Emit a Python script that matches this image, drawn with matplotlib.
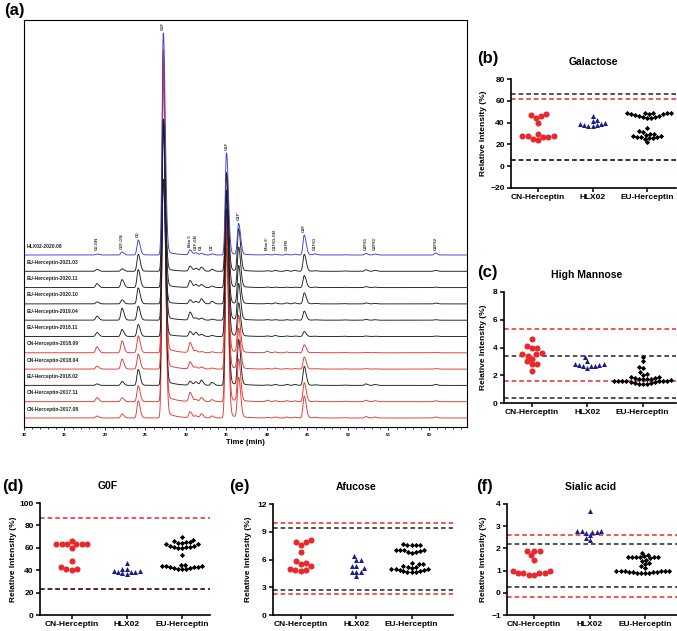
import numpy as np
import matplotlib
matplotlib.use("Agg")
import matplotlib.pyplot as plt
from matplotlib.ticker import MultipleLocator

plt.rcParams['font.family'] = ['Liberation Sans', 'DejaVu Sans']
plt.rcParams['font.weight'] = 'bold'
plt.rcParams['axes.labelweight'] = 'bold'

W, H = 677, 631

# ---------------- (a) chromatogram: peak table ----------------
trace_names = ['HLX02-2020.08', 'EU-Herceptin-2021.03', 'EU-Herceptin-2020.11', 'EU-Herceptin-2020.10',
               'EU-Herceptin-2019.04', 'EU-Herceptin-2018.11', 'CN-Herceptin-2018.09', 'CN-Herceptin-2018.04',
               'EU-Herceptin-2018.02', 'CN-Herceptin-2017.11', 'CN-Herceptin-2017.08']
trace_kind = ['HLX02', 'EU', 'EU', 'EU', 'EU', 'EU', 'CN', 'CN', 'EU', 'CN', 'CN']

peak_times = [19.0, 22.1, 24.1, 27.2, 30.5, 31.2, 31.9, 33.2, 35.0, 36.5,
              40.0, 41.0, 42.4, 43.4, 44.6, 45.9, 49.5, 52.2, 53.3, 60.8]
peak_labels = ['G0-GN', 'G0F-GN', 'G0', 'G0F', 'Man 5', 'G1F-GN', 'G1', "G1'", 'G1F', "G1F'",
               "Man 6'", 'G1FS1-GN', 'G1FB', '', 'G2F', 'G1FS1', '', 'G2FS1', "G2FS1'", 'G2FS2']
# heights (arbitrary units) of each peak, one row per trace, top trace first
peak_heights = [
    [1, 3, 15, 222, 5, 2, 1.5, 1, 102, 31, 0.5, 0.8, 0.8, 0.8, 20, 1, 0.3, 1.5, 1, 2],
    [2, 2.5, 17, 151, 5, 3, 4, 2, 98, 42, 0.5, 0.8, 1, 1, 17, 0.5, 0.3, 1.5, 1, 1],
    [4, 8, 18, 168, 7, 3, 3, 1.5, 115, 40, 0.5, 0.5, 0.5, 0.5, 12, 0.5, 0.3, 1, 0.5, 0.5],
    [2, 4, 16, 124, 4, 2.5, 5, 2.5, 95, 38, 0.5, 1, 1, 1, 11, 0.5, 0.3, 1, 0.5, 0.8],
    [4, 12, 14, 201, 8, 2, 2, 1, 130, 36, 0.5, 0.5, 0.5, 0.5, 9, 0.3, 0.3, 0.8, 0.5, 0.5],
    [4, 7, 12, 157, 5, 4, 2, 1, 140, 33, 0.5, 1, 0.5, 0.5, 5, 0.3, 0.3, 0.5, 0.3, 0.5],
    [6, 12, 17, 303, 10, 2, 1, 1, 140, 37, 1.5, 0.8, 0.8, 0.5, 8, 0.3, 0.5, 0.5, 0.3, 0.5],
    [3, 10, 15, 310, 7, 2, 2, 1, 150, 40, 0.5, 1, 0.5, 0.5, 12, 0.3, 0.3, 0.5, 0.3, 0.5],
    [1.5, 4, 16, 266, 4, 3.5, 5, 3, 160, 45, 0.5, 1, 1, 1, 19, 0.5, 0.3, 1.5, 1, 1],
    [4, 4, 16, 347, 9, 2, 4, 2, 165, 42, 1.5, 1, 1, 0.8, 19, 0.5, 0.5, 1.5, 1, 1],
    [2, 4, 17, 348, 6, 2, 4, 2, 170, 40, 0.5, 1, 1, 0.8, 22, 0.5, 0.3, 1.5, 1, 1],
]

# ---------------- (b)-(f) dot plots ----------------
groups = ['CN-Herceptin', 'HLX02', 'EU-Herceptin']

gal_cn = [48.2, 47.3, 45.7, 44.2, 39.6, 29.5, 28, 27.7, 27.4, 26.5, 26.5, 25.3, 23.7]
gal_hlx = [46, 42, 41.5, 39.5, 39, 38.5, 38, 37.5, 37, 36.5]
gal_eu = [49, 49, 48.8, 48.5, 48.3, 48, 47.5, 47, 46.5, 46, 45.5, 45, 44.5, 44, 48.6,
          35, 32, 31, 30, 30, 29, 28, 28, 27, 27, 27, 26, 26, 25, 22]
gal_red = [62, 6]
gal_black = [66, 5.5]

man_cn = [4.6, 4.1, 4.0, 3.95, 3.6, 3.5, 3.5, 3.4, 3.2, 3.0, 2.8, 2.8, 2.3]
man_hlx = [3.3, 3.05, 2.8, 2.8, 2.75, 2.75, 2.7, 2.7, 2.65, 2.5]
man_eu = [3.3, 3.0, 2.6, 2.5, 2.2, 2.1, 2.0, 1.9, 1.85, 1.8, 1.8, 1.75, 1.7, 1.65, 1.6,
          1.6, 1.6, 1.6, 1.55, 1.55, 1.5, 1.5, 1.45, 1.45, 1.4, 1.4, 1.4, 1.6, 1.7, 1.75]
man_red = [5.31, 1.56]
man_black = [3.41, 0.36]

g0f_cn = [66.5, 63.5, 63.5, 63, 63, 63, 63, 60, 48.5, 43, 41, 41, 40.5]
g0f_hlx = [46, 41.5, 41, 39.5, 39, 38.5, 38, 38, 37.5, 37]
g0f_eu = [70, 67, 66, 65, 65, 64, 64, 63, 63, 62, 62, 61, 61, 61, 60, 60, 54,
          45, 44.5, 44, 43.5, 43, 42.5, 42, 41.5, 41, 41.5, 42, 43, 44]
g0f_red = [86.5, 23.5]
g0f_black = [23]

afu_cn = [8.1, 7.85, 7.85, 7.6, 6.8, 5.85, 5.6, 5.5, 5.25, 5.0, 4.9, 4.9, 4.8]
afu_hlx = [6.4, 6.0, 6.0, 5.3, 5.25, 5.05, 4.7, 4.7, 4.7, 4.2]
afu_eu = [7.65, 7.6, 7.6, 7.6, 7.55, 7.05, 7.0, 7.0, 6.9, 6.85, 6.8, 6.75, 7.0,
          5.65, 5.5, 5.5, 5.25, 5.2, 5.1, 5.0, 4.95, 4.9, 4.8, 4.75, 4.7, 4.65, 4.6, 4.9, 5.0, 5.2]
afu_red = [10.0, 2.3]
afu_black = [9.4, 2.65]

sia_cn = [1.9, 1.9, 1.9, 1.7, 1.5, 1.0, 1.0, 0.9, 0.9, 0.9, 0.88, 0.8, 0.8]
sia_hlx = [3.7, 2.8, 2.8, 2.78, 2.75, 2.75, 2.7, 2.6, 2.48, 2.38]
sia_eu = [1.8, 1.7, 1.65, 1.62, 1.6, 1.6, 1.6, 1.6, 1.6, 1.55, 1.5, 1.45, 1.35, 1.3, 1.2,
          1.1, 1.0, 1.0, 1.0, 1.0, 1.0, 0.95, 0.95, 0.92, 0.9, 0.9, 0.9, 0.9, 0.95, 1.0]
sia_red = [2.61, -0.17]
sia_black = [2.19, 0.28]

RED = '#e8282a'
NAVY = '#1c1c8a'
TRACE_COL = {'HLX02': '#3c3cd8', 'EU': '#1e1e1e', 'CN': '#e8352e'}


def add_ax(fig, left, top, right, bottom):
    return fig.add_axes([left / W, 1 - bottom / H, (right - left) / W, (bottom - top) / H])


def trace(t, heights):
    y = np.zeros_like(t)
    for t0, h in zip(peak_times, heights):
        s = np.where(t < t0, 0.15, 0.24)
        y += h * np.exp(-0.5 * ((t - t0) / s) ** 2)
        dt = np.clip(t - t0, 0, None)
        y += 0.025 * h * np.exp(-dt / 1.0) * (1 - np.exp(-dt / 0.3))
    return y


def swarm(ax, x0, vals, d):
    # simple beeswarm in pixel space, lowest value in the middle
    pts = ax.transData.transform(np.column_stack([np.full(len(vals), x0), vals]))
    ys = pts[:, 1]
    order = np.argsort(ys, kind='stable')
    placed = []
    offs = np.zeros(len(vals))
    for k, i in enumerate(order):
        y = ys[i]
        cands = [0.0]
        for px, py in placed:
            dy = abs(py - y)
            if dy < d:
                dx = np.sqrt(d * d - dy * dy)
                cands += [px + dx, px - dx]
        side = 1 if k % 2 else -1
        cands.sort(key=lambda c: (round(abs(c), 3), side * c))
        best = 0.0
        for c in cands:
            if all((c - px) ** 2 + (y - py) ** 2 >= d * d - 1e-6 for px, py in placed):
                best = c
                break
        placed.append((best, y))
        offs[i] = best
    xc = pts[0, 0]
    inv = ax.transData.inverted()
    return np.array([inv.transform((xc + o, 0))[0] for o in offs])


fig = plt.figure(figsize=(W / 100, H / 100), dpi=100)

# ---------------- panel (a) ----------------
ax = add_ax(fig, 24, 20, 467, 427)
t = np.linspace(10, 64.7, 4000)
n = len(trace_names)
base = [9 + 16.3 * (n - 1 - i) for i in range(n)]
curves = [trace(t, h) for h in peak_heights]
for i in range(n - 1, -1, -1):
    ax.plot(t, base[i] + curves[i], color=TRACE_COL[trace_kind[i]], lw=0.65)
    ax.text(10.35, base[i] + 9, trace_names[i], fontsize=3.6, fontweight='bold',
            va='center', ha='left', color='#222222')
for tp, lab in zip(peak_times, peak_labels):
    if not lab:
        continue
    m = (t > tp - 0.3) & (t < tp + 0.3)
    ytxt = max(curves[0][m].max() + 3, 5)
    ax.text(tp, base[0] + ytxt, lab, rotation=90, fontsize=3.0, ha='center', va='bottom',
            color='#333333')
ax.set_xlim(10, 64.7)
ax.set_ylim(0, 407)
ax.set_yticks([])
ax.xaxis.set_major_locator(MultipleLocator(5))
ax.xaxis.set_minor_locator(MultipleLocator(1))
ax.tick_params(axis='x', which='major', labelsize=3.2, length=2.5, width=0.6, pad=1.5)
ax.tick_params(axis='x', which='minor', length=1.5, width=0.5)
ax.set_xlim(10, 64.7)
for sp in ax.spines.values():
    sp.set_linewidth(0.8)
ax.set_xlabel('Time (min)', fontsize=5.5, labelpad=2)
fig.text(4 / W, 1 - 11 / H, '(a)', fontsize=12, fontweight='bold', va='center', ha='left')

# ---------------- panels (b)-(f) ----------------
panels = [
    # box (l, t, r, b), xlim, ylim, yticks, data, red, black, title, title_x, tag_xy, ylabel_x
    ((511, 79, 676, 188), (-0.495, 2.53), (-20, 80), [-20, 0, 20, 40, 60, 80],
     (gal_cn, gal_hlx, gal_eu), gal_red, gal_black, 'Galactose', 593, (477, 59), 487),
    ((504, 292, 676, 403), (-0.5, 2.6), (0, 8), [0, 2, 4, 6, 8],
     (man_cn, man_hlx, man_eu), man_red, man_black, 'High Mannose', 587, (477, 273), 487),
    ((40, 503, 210, 615), (-0.576, 2.51), (0, 100), [0, 20, 40, 60, 80, 100],
     (g0f_cn, g0f_hlx, g0f_eu), g0f_red, g0f_black, 'G0F', 108, (2, 486), 17),
    ((273, 504, 453, 615), (-0.506, 2.75), (0, 12), [0, 3, 6, 9, 12],
     (afu_cn, afu_hlx, afu_eu), afu_red, afu_black, 'Afucose', 356, (229, 486), 252),
    ((507, 504, 677, 615), (-0.49, 2.58), (-1, 4), [-1, 0, 1, 2, 3, 4],
     (sia_cn, sia_hlx, sia_eu), sia_red, sia_black, 'Sialic acid', 591, (476, 486), 487),
]
tags = ['(b)', '(c)', '(d)', '(e)', '(f)']
styles = [dict(marker='o', color=RED, s=19, d=5.6),
          dict(marker='^', color=NAVY, s=13, d=4.4),
          dict(marker='D', color='black', s=7, d=4.1)]

for (box, xlim, ylim, yticks, data, reds, blacks, title, tx, tag_xy, ylx), tag in zip(panels, tags):
    ax = add_ax(fig, *box)
    ax.set_xlim(*xlim)
    ax.set_ylim(*ylim)
    for v in reds:
        ax.axhline(v, color=RED, lw=1.1, ls=(0, (3, 2)), zorder=1)
    for v in blacks:
        ax.axhline(v, color='#222222', lw=1.1, ls=(0, (3, 2)), zorder=1)
    for g, (vals, st) in enumerate(zip(data, styles)):
        xs = swarm(ax, g, vals, st['d'])
        ax.scatter(xs, vals, marker=st['marker'], color=st['color'], s=st['s'],
                   linewidths=0, zorder=3)
    ax.set_xticks(range(3))
    ax.set_xticklabels(groups)
    ax.set_yticks(yticks)
    ax.tick_params(axis='both', labelsize=6, width=1.1, length=3, pad=1.5)
    for lab in ax.get_xticklabels() + ax.get_yticklabels():
        lab.set_fontweight('bold')
    ax.spines['top'].set_visible(False)
    ax.spines['right'].set_visible(False)
    ax.spines['left'].set_linewidth(1.2)
    ax.spines['bottom'].set_linewidth(1.2)
    ax.set_ylabel('Relative Intensity (%)', fontsize=6)
    ax.yaxis.set_label_coords((ylx - box[0]) / (box[2] - box[0]), 0.5)
    fig.text(tx / W, 1 - (box[1] - 17) / H, title, fontsize=7.5, fontweight='bold',
             ha='center', va='center')
    fig.text(tag_xy[0] / W, 1 - tag_xy[1] / H, tag, fontsize=12, fontweight='bold',
             ha='left', va='center')

fig.savefig('out.png', dpi=100)
